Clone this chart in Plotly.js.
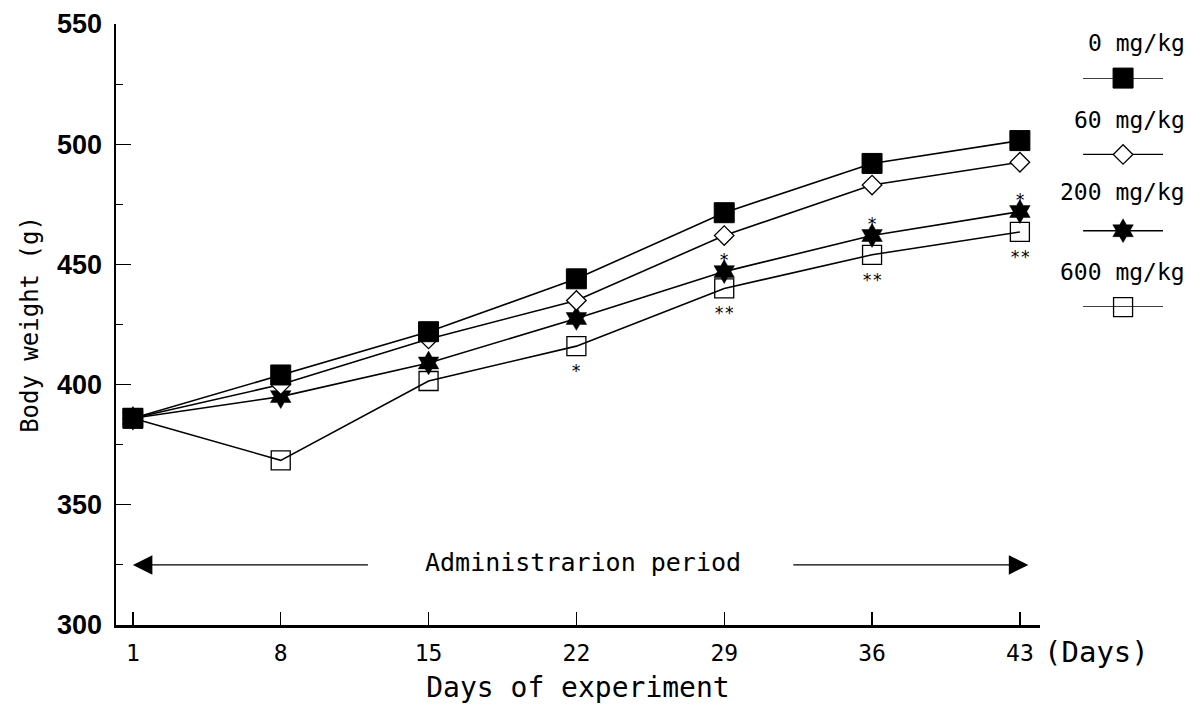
<!DOCTYPE html>
<html>
<head>
<meta charset="utf-8">
<script src="https://cdn.plot.ly/plotly-3.0.1.min.js"></script>
<style>html,body{margin:0;padding:0;background:#fff;}#chart{width:1191px;height:704px;}</style>
</head>
<body>
<div id="chart"></div>
<script>
// ---- data ----
const days = [1, 8, 15, 22, 29, 36, 43];
const dose0   = [386, 404, 422, 444, 471.5, 492, 501.5];
const dose60  = [386, 400, 419, 435, 462, 483, 492.5];
const dose200 = [386, 395, 409, 427.5, 447, 462, 472];
const dose600 = [386, 368.5, 401.5, 416, 440, 454, 463.5];
const seriesNames = ["0 mg/kg", "60 mg/kg", "200 mg/kg", "600 mg/kg"];
// significance marks: above 200 mg/kg points, below 600 mg/kg points
const sig200 = ["", "", "", "", "*", "*", "*"];
const sig600 = ["", "", "", "*", "**", "**", "**"];
const xTicks = [1, 8, 15, 22, 29, 36, 43];
const yTicks = [300, 350, 400, 450, 500, 550];

const MONO = '"DejaVu Sans Mono", "Liberation Mono", monospace';
const BOLD = '"Liberation Sans", Arial, sans-serif';

const markerDefs = [
  {symbol: 'square', size: 20, color: '#000', line: {color: '#000', width: 1}},
  {symbol: 'diamond', size: 15, color: '#fff', line: {color: '#000', width: 1.3}},
  {symbol: 'hexagram', size: 18, color: '#000', line: {color: '#000', width: 0.5}},
  {symbol: 'square-open', size: 19, color: '#000', line: {color: '#000', width: 1.3}}
];
const allSeries = [dose0, dose60, dose200, dose600];

// draw 600 first, 0 mg/kg last (on top)
const traces = [3, 2, 1, 0].map(i => ({
  x: days, y: allSeries[i], type: 'scatter', mode: 'lines+markers',
  name: seriesNames[i],
  line: {color: '#000', width: 1.6},
  marker: markerDefs[i],
  showlegend: false, cliponaxis: false
}));

// legend glyphs on an auxiliary axis pair at the right
[0, 1, 2, 3].forEach(i => {
  const yy = 3 - i;
  traces.push({
    x: [0, 1, 2], y: [yy, yy, yy], xaxis: 'x2', yaxis: 'y2',
    type: 'scatter', mode: 'lines', line: {color: '#000', width: 1.4},
    showlegend: false, hoverinfo: 'skip', cliponaxis: false
  });
  traces.push({
    x: [1], y: [yy], xaxis: 'x2', yaxis: 'y2',
    type: 'scatter', mode: 'markers', marker: markerDefs[i],
    showlegend: false, hoverinfo: 'skip', cliponaxis: false
  });
});

const annotations = [];
days.forEach((d, k) => {
  if (sig200[k]) annotations.push({x: d, y: dose200[k], xref: 'x', yref: 'y', text: sig200[k],
    showarrow: false, yshift: 12, font: {family: MONO, size: 17, color: '#000'}});
  if (sig600[k]) annotations.push({x: d, y: dose600[k], xref: 'x', yref: 'y', text: sig600[k],
    showarrow: false, yshift: -25, font: {family: MONO, size: 17, color: '#000'}});
});
// legend labels
const legendLabelY = [0.968, 0.840, 0.720, 0.587];
seriesNames.forEach((nm, i) => {
  annotations.push({xref: 'paper', yref: 'paper', x: 1.0, y: legendLabelY[i], xanchor: 'right', yanchor: 'middle',
    text: nm, showarrow: false, font: {family: MONO, size: 23, color: '#000'}});
});
// administration period arrows & label
annotations.push({x: 1.0, y: 325, ax: 12.2, ay: 325, xref: 'x', yref: 'y', axref: 'x', ayref: 'y',
  text: '', showarrow: true, arrowhead: 2, arrowsize: 3, arrowwidth: 1.3, arrowcolor: '#000'});
annotations.push({x: 43.4, y: 325, ax: 32.2, ay: 325, xref: 'x', yref: 'y', axref: 'x', ayref: 'y',
  text: '', showarrow: true, arrowhead: 2, arrowsize: 3, arrowwidth: 1.3, arrowcolor: '#000'});
annotations.push({x: 22.3, y: 326, xref: 'x', yref: 'y', text: 'Administrarion period', showarrow: false,
  font: {family: MONO, size: 25, color: '#000'}});
annotations.push({xref: 'paper', yref: 'paper', x: 0.8645, y: 0, yshift: -27, xanchor: 'left', yanchor: 'middle',
  text: '(Days)', showarrow: false, font: {family: MONO, size: 29, color: '#000'}});

const layout = {
  width: 1191, height: 704,
  margin: {l: 116, r: 4, t: 24, b: 79},
  paper_bgcolor: '#fff', plot_bgcolor: '#fff',
  showlegend: false,
  xaxis: {
    domain: [0, 0.8627],
    range: [0.2, 43.95], tickmode: 'array', tickvals: xTicks, ticktext: xTicks.map(String),
    ticks: 'inside', ticklen: 13, tickwidth: 1.3, tickcolor: '#000',
    showline: true, linecolor: '#000', linewidth: 2.5, showgrid: false, zeroline: false,
    tickfont: {family: MONO, size: 23, color: '#000'}, ticklabelstandoff: 6,
    title: {text: 'Days of experiment', font: {family: MONO, size: 28, color: '#000'}, standoff: 15}
  },
  yaxis: {
    range: [300, 550], tickmode: 'array', tickvals: yTicks, ticktext: yTicks.map(String),
    ticks: 'inside', ticklen: 15, tickwidth: 1.3, tickcolor: '#000',
    minor: {dtick: 25, ticks: 'inside', ticklen: 7, tickwidth: 1, tickcolor: '#000'},
    showline: true, linecolor: '#000', linewidth: 2.5, showgrid: false, zeroline: false,
    tickfont: {family: BOLD, size: 27, color: '#000', weight: 'bold'}, ticklabelstandoff: 6,
    title: {text: 'Body weight (g)', font: {family: MONO, size: 24, color: '#000'}, standoff: 12}
  },
  xaxis2: {domain: [0.903, 0.9776], range: [0, 2], visible: false, fixedrange: true, anchor: 'y2'},
  yaxis2: {domain: [0.529, 0.910], range: [0, 3], visible: false, fixedrange: true, anchor: 'x2'},
  annotations: annotations
};

Plotly.newPlot('chart', traces, layout, {displayModeBar: false, staticPlot: true});
</script>
</body>
</html>
